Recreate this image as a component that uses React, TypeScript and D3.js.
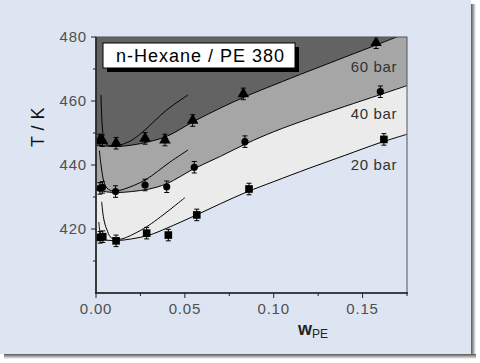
import React from "react";
import * as d3 from "d3";

// ---- data ----
const wTri = [0.0022, 0.0036, 0.0113, 0.0276, 0.0388, 0.0544, 0.0829, 0.1576];
const tTri = [447.8, 447.6, 446.8, 448.3, 447.8, 453.9, 462.2, 478.2];
const wCirc = [0.0022, 0.0036, 0.011, 0.0276, 0.0398, 0.0553, 0.0838, 0.16];
const tCirc = [432.7, 433.0, 431.7, 433.75, 433.2, 439.3, 447.3, 462.9];
const wSq = [0.0023, 0.0038, 0.0113, 0.0285, 0.0407, 0.0567, 0.0861, 0.162];
const tSq = [417.4, 417.6, 416.3, 418.7, 418.1, 424.4, 432.5, 448.0];
const errT = 1.8;

const bW = [0, 0.006, 0.012, 0.02, 0.03, 0.04, 0.055, 0.07, 0.085, 0.1, 0.12, 0.14, 0.16, 0.175];
const b60 = [446.3, 445.9, 445.8, 446.2, 447.3, 449.0, 453.6, 457.8, 461.6, 465.0, 469.4, 473.7, 478.0, 481.3];
const b40 = [432.2, 431.6, 431.4, 431.7, 432.5, 434.2, 438.8, 442.7, 446.8, 450.4, 454.5, 458.3, 462.0, 464.8];
const b20 = [417.0, 416.5, 416.4, 416.9, 418.1, 420.3, 424.0, 427.9, 431.6, 434.8, 439.0, 443.0, 447.0, 449.6];

// steep left branches and rising (second) branches
const s60W = [0.0028, 0.0031, 0.0036, 0.0043, 0.0055, 0.0075, 0.0095, 0.0116];
const s60T = [461.9, 456.5, 451.5, 448.2, 446.6, 446.0, 445.9, 445.9];
const r60W = [0.0116, 0.016, 0.02, 0.0264, 0.0398, 0.0518];
const r60T = [445.9, 446.7, 447.7, 450.4, 457.2, 461.9];
const s40W = [0.0019, 0.0027, 0.0036, 0.0046, 0.006, 0.008, 0.0109];
const s40T = [444.5, 440.5, 437.0, 434.4, 432.9, 432.1, 431.8];
const r40W = [0.0109, 0.016, 0.0276, 0.0416, 0.0518];
const r40T = [431.8, 432.5, 435.3, 440.9, 444.7];
const s20W = [0.0032, 0.0041, 0.0052, 0.0062, 0.0079, 0.0098, 0.0116];
const s20T = [428.5, 424.0, 421.2, 419.7, 417.6, 416.9, 416.7];
const r20W = [0.0116, 0.0152, 0.0285, 0.05];
const r20T = [416.7, 417.0, 420.7, 429.8];
const t20W = [0.0016, 0.0019, 0.0023];
const t20T = [422.2, 420.3, 418.6];

const xTicks = [0, 0.05, 0.1, 0.15];
const xMinor = [0.025, 0.075, 0.125, 0.175];
const yTicks = [420, 440, 460, 480];
const yMinor = [410, 430, 450, 470];
const pressureLabels = ["60 bar", "40 bar", "20 bar"];
const labelT = [469.2, 454.3, 438.3];
const title = "n-Hexane / PE 380";

export default function App() {
  const X0 = 96, X1 = 407, Y0 = 293, Y1 = 37;
  const x = d3.scaleLinear().domain([0, 0.175]).range([X0, X1]);
  const y = d3.scaleLinear().domain([400, 480]).range([Y0, Y1]);

  const pts = (ws: number[], ts: number[]) => ws.map((w, i) => [w, ts[i]] as [number, number]);
  const line = d3.line<[number, number]>().x(d => x(d[0])).y(d => y(d[1])).curve(d3.curveCatmullRom.alpha(0.5));

  const areaTop = d3.area<[number, number]>().x(d => x(d[0])).y0(y(490)).y1(d => y(d[1])).curve(d3.curveCatmullRom.alpha(0.5));
  const between = (hi: number[], lo: number[]) =>
    d3.area<number>().x(i => x(bW[i])).y0(i => y(lo[i])).y1(i => y(hi[i])).curve(d3.curveCatmullRom.alpha(0.5))(bW.map((_, i) => i)) || "";

  const tri = d3.symbol().type(d3.symbolTriangle).size(58)() || "";
  const sq = d3.symbol().type(d3.symbolSquare).size(58)() || "";

  const errbars = (ws: number[], ts: number[]) =>
    ws.map((w, i) => (
      <g key={"e" + i} stroke="#000" strokeWidth={1}>
        <line x1={x(w)} x2={x(w)} y1={y(ts[i] - errT)} y2={y(ts[i] + errT)} />
        <line x1={x(w) - 2.5} x2={x(w) + 2.5} y1={y(ts[i] - errT)} y2={y(ts[i] - errT)} />
        <line x1={x(w) - 2.5} x2={x(w) + 2.5} y1={y(ts[i] + errT)} y2={y(ts[i] + errT)} />
      </g>
    ));

  const tickFont = { fontFamily: "Arial, 'Liberation Sans', sans-serif", fontSize: 15, fill: "#505050", letterSpacing: 0.8 };

  return (
    <svg width={480} height={363} style={{ position: "fixed", left: 0, top: 0 }}>
      <defs>
        <clipPath id="plotclip">
          <rect x={X0} y={Y1} width={X1 - X0} height={Y0 - Y1} />
        </clipPath>
        <linearGradient id="shR" x1="0" x2="1" y1="0" y2="0">
          <stop offset="0" stopColor="#555" />
          <stop offset="1" stopColor="#fff" />
        </linearGradient>
        <linearGradient id="shB" x1="0" x2="0" y1="0" y2="1">
          <stop offset="0" stopColor="#555" />
          <stop offset="1" stopColor="#fff" />
        </linearGradient>
      </defs>
      <rect x={0} y={0} width={480} height={363} fill="#fff" />
      <rect x={471} y={4} width={5} height={354} fill="url(#shR)" />
      <rect x={4} y={354} width={472} height={5} fill="url(#shB)" />
      <rect x={0} y={0} width={471} height={354} fill="#dce5f1" />

      <g clipPath="url(#plotclip)">
        <path d={areaTop(pts(bW, b60)) || ""} fill="#636363" />
        <path d={between(b60, b40)} fill="#a6a6a6" />
        <path d={between(b40, b20)} fill="#ebebeb" />
        {[b60, b40, b20].map((b, k) => (
          <path key={"b" + k} d={line(pts(bW, b)) || ""} fill="none" stroke="#000" strokeWidth={1} />
        ))}
        {[
          [s60W, s60T], [r60W, r60T], [s40W, s40T], [r40W, r40T], [s20W, s20T], [r20W, r20T], [t20W, t20T],
        ].map((c, k) => (
          <path key={"c" + k} d={line(pts(c[0], c[1])) || ""} fill="none" stroke="#000" strokeWidth={1} />
        ))}
        {errbars(wTri, tTri)}
        {errbars(wCirc, tCirc)}
        {errbars(wSq, tSq)}
        {wTri.map((w, i) => (
          <path key={"t" + i} d={tri} transform={`translate(${x(w)},${y(tTri[i])})`} fill="#000" />
        ))}
        {wCirc.map((w, i) => (
          <circle key={"o" + i} cx={x(w)} cy={y(tCirc[i])} r={3.6} fill="#000" />
        ))}
        {wSq.map((w, i) => (
          <path key={"s" + i} d={sq} transform={`translate(${x(w)},${y(tSq[i])})`} fill="#000" />
        ))}
      </g>

      {/* frame */}
      <rect x={X0} y={Y1} width={X1 - X0} height={Y0 - Y1} fill="none" stroke="#555" strokeWidth={1} />
      <line x1={X0} x2={X0} y1={Y1} y2={Y0 + 1} stroke="#222" strokeWidth={1.6} />
      <line x1={X0 - 1} x2={X1 + 1} y1={Y0} y2={Y0} stroke="#222" strokeWidth={1.6} />

      {/* y axis ticks */}
      {yTicks.map(t => (
        <g key={"yt" + t}>
          <line x1={X0 - 5} x2={X0} y1={y(t)} y2={y(t)} stroke="#222" strokeWidth={1} />
          <text x={X0 - 9} y={y(t)} dy="0.35em" textAnchor="end" {...tickFont}>{t}</text>
        </g>
      ))}
      {yMinor.map(t => (
        <line key={"ym" + t} x1={X0 - 3} x2={X0} y1={y(t)} y2={y(t)} stroke="#222" strokeWidth={1} />
      ))}
      {xTicks.map(t => (
        <g key={"xt" + t}>
          <line x1={x(t)} x2={x(t)} y1={Y0} y2={Y0 + 5} stroke="#222" strokeWidth={1} />
          <text x={x(t)} y={Y0 + 10} dy="0.75em" textAnchor="middle" {...tickFont}>{d3.format(".2f")(t)}</text>
        </g>
      ))}
      {xMinor.map(t => (
        <line key={"xm" + t} x1={x(t)} x2={x(t)} y1={Y0} y2={Y0 + 3} stroke="#222" strokeWidth={1} />
      ))}

      {/* axis titles */}
      <text transform="translate(44,127) rotate(-90)" textAnchor="middle" fontFamily="Arial, 'Liberation Sans', sans-serif" fontSize={18} fill="#111" letterSpacing={0.5}>T / K</text>
      <text x={298} y={335} fontFamily="Arial, 'Liberation Sans', sans-serif" fontSize={18} fontWeight="bold" fill="#222">
        w<tspan fontSize={12} fontWeight="normal" dy={3}>PE</tspan>
      </text>

      {/* pressure labels */}
      {pressureLabels.map((l, i) => (
        <text key={l} x={397} y={y(labelT[i])} textAnchor="end" fontFamily="Arial, 'Liberation Sans', sans-serif" fontSize={15} fill="#333" letterSpacing={0.6}>{l}</text>
      ))}

      {/* title box */}
      <rect x={107} y={47} width={192} height={25} fill="#000" />
      <rect x={103} y={43} width={192} height={25} fill="#fff" stroke="#000" strokeWidth={1} />
      <text x={116} y={62} fontFamily="Arial, 'Liberation Sans', sans-serif" fontSize={18} fill="#000" letterSpacing={1}>{title}</text>
    </svg>
  );
}
